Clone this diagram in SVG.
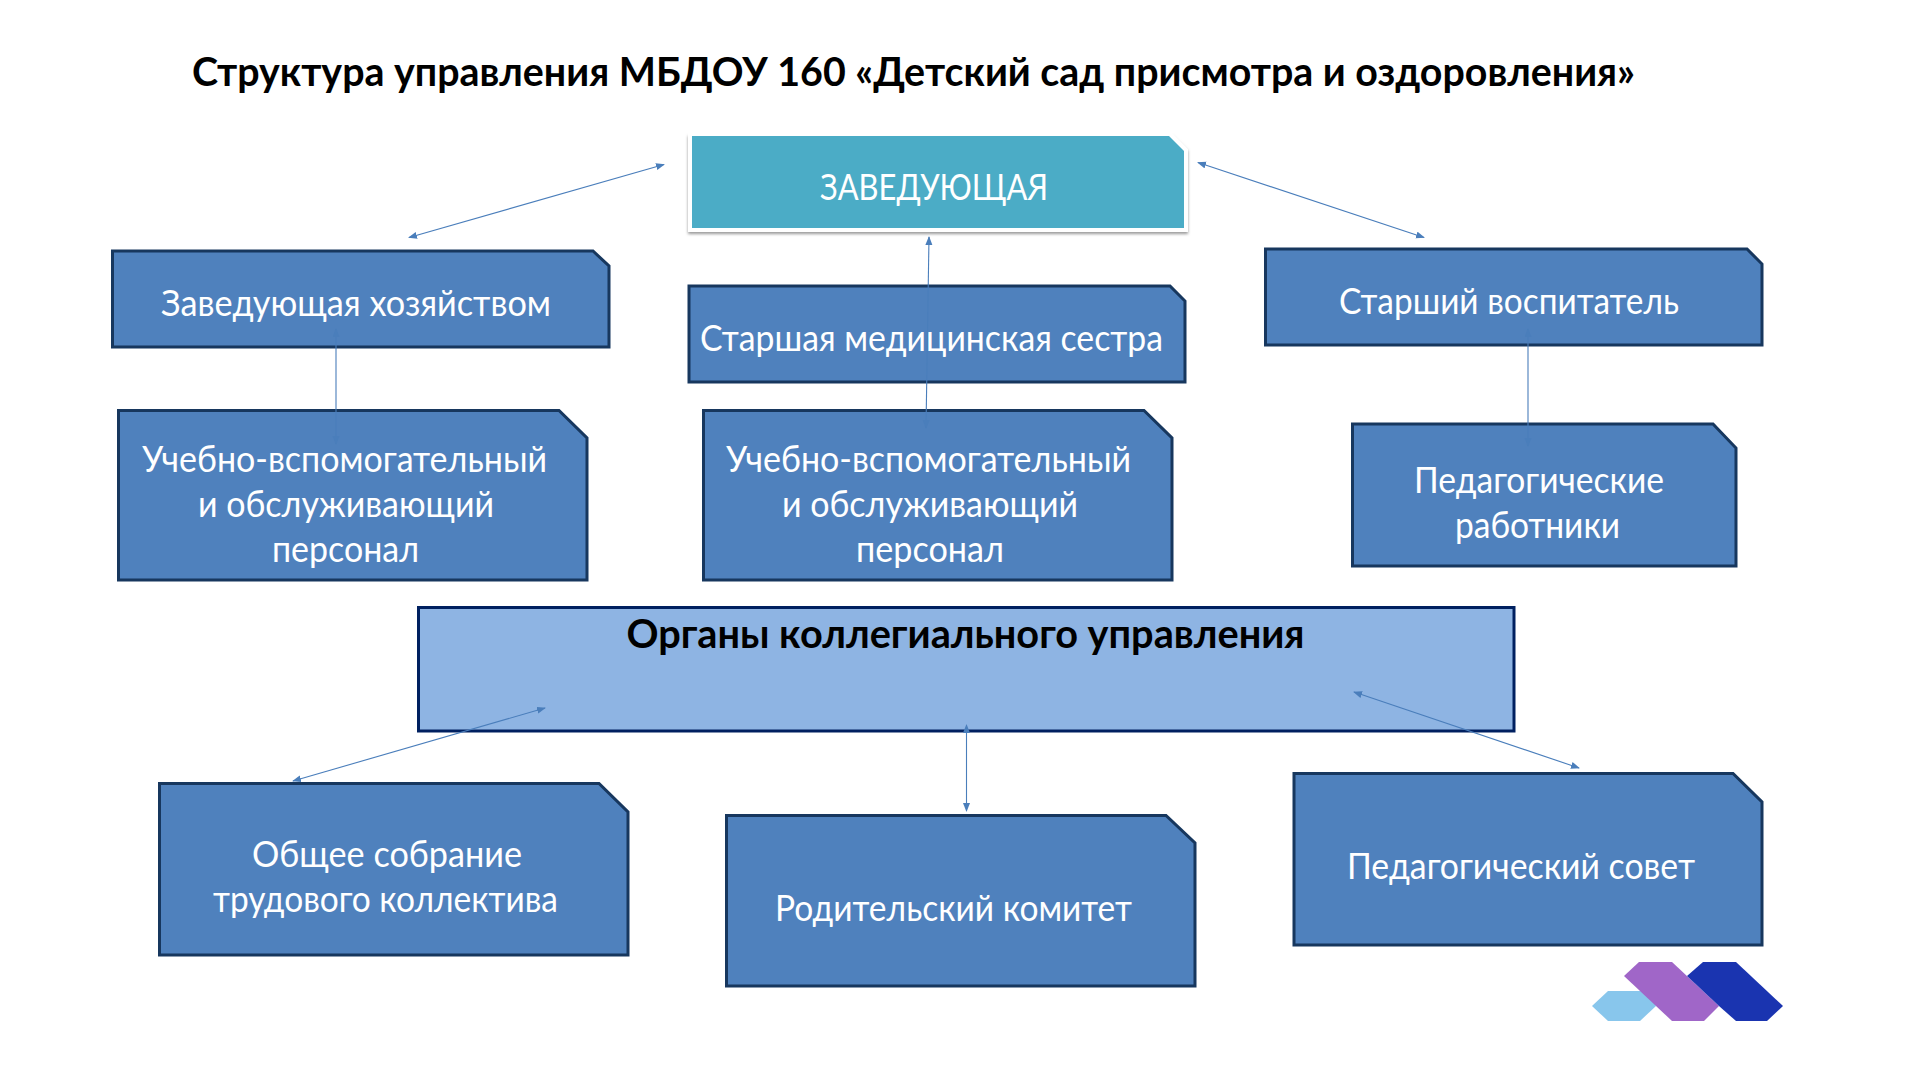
<svg xmlns="http://www.w3.org/2000/svg" width="1920" height="1080" viewBox="0 0 1920 1080">
<style>
text{font-family:"Lato","Open Sans","Noto Sans",sans-serif;font-size:36px;fill:#fff}
.b{font-weight:700;font-size:40px;fill:#000}
.n{fill:#4f81bd;stroke:#17375e;stroke-width:3}
.c{fill:none;stroke:#4a7ebb;stroke-width:1.1;marker-start:url(#a);marker-end:url(#a)}
</style>
<defs>
<marker id="a" markerWidth="10" markerHeight="8" refX="8" refY="3.5" orient="auto-start-reverse" markerUnits="userSpaceOnUse"><path d="M0 0L9 3.5L0 7Z" fill="#4a7ebb"/></marker>
<filter id="s" x="-5%" y="-10%" width="110%" height="125%"><feGaussianBlur stdDeviation="1.5"/></filter>
</defs>
<rect width="1920" height="1080" fill="#fff"/>
<text id="title" class="b" x="192" y="85.5" textLength="1443" lengthAdjust="spacingAndGlyphs">Структура управления МБДОУ 160 «Детский сад присмотра и оздоровления»</text>

<g id="head">
<polygon points="688,136 1172,136 1188,151 1188,234 688,234" fill="#999" filter="url(#s)"/>
<polygon points="688,132 1171,132 1188,149 1188,232 688,232" fill="#fff"/>
<polygon points="692,136 1169,136 1184,151 1184,228 692,228" fill="#4bacc6"/>
<text x="820" y="199.5" textLength="228" lengthAdjust="spacingAndGlyphs">ЗАВЕДУЮЩАЯ</text>
</g>
<g id="n-hoz"><polygon class="n" points="112.5,251 593,251 609,266 609,347 112.5,347"/><text x="161" y="316" textLength="390" lengthAdjust="spacingAndGlyphs">Заведующая хозяйством</text></g>
<g id="n-med"><polygon class="n" points="689,286 1170,286 1185,301 1185,382 689,382"/><text x="700" y="351" textLength="463" lengthAdjust="spacingAndGlyphs">Старшая медицинская сестра</text></g>
<g id="n-vos"><polygon class="n" points="1265.5,249 1747,249 1762,264 1762,345 1265.5,345"/><text x="1339" y="314" textLength="340" lengthAdjust="spacingAndGlyphs">Старший воспитатель</text></g>
<g id="n-ped"><polygon class="n" points="1352.5,424 1713,424 1736,448 1736,566 1352.5,566"/><text x="1414" y="493" textLength="250" lengthAdjust="spacingAndGlyphs">Педагогические</text><text x="1455" y="537.5" textLength="165" lengthAdjust="spacingAndGlyphs">работники</text></g>
<g id="n-uch1"><polygon class="n" points="118.5,410.5 559,410.5 587,438 587,580 118.5,580"/><text x="142" y="471.5" textLength="405" lengthAdjust="spacingAndGlyphs">Учебно-вспомогательный</text><text x="198" y="516.5" textLength="296" lengthAdjust="spacingAndGlyphs">и обслуживающий</text><text x="272" y="561.5" textLength="147" lengthAdjust="spacingAndGlyphs">персонал</text></g>
<g id="n-uch2"><polygon class="n" points="703.5,410.5 1144,410.5 1172,438 1172,580 703.5,580"/><text x="726" y="471.5" textLength="405" lengthAdjust="spacingAndGlyphs">Учебно-вспомогательный</text><text x="782" y="516.5" textLength="296" lengthAdjust="spacingAndGlyphs">и обслуживающий</text><text x="856" y="561.5" textLength="148" lengthAdjust="spacingAndGlyphs">персонал</text></g>
<g id="n-org"><rect x="418.5" y="607.5" width="1095.5" height="123.5" fill="#8eb4e3" stroke="#002060" stroke-width="3"/><text class="b" x="626.5" y="648" textLength="678" lengthAdjust="spacingAndGlyphs">Органы коллегиального управления</text></g>
<g id="n-obsh"><polygon class="n" points="159.5,783.5 599,783.5 628,812 628,955 159.5,955"/><text x="252" y="867" textLength="270" lengthAdjust="spacingAndGlyphs">Общее собрание</text><text x="213" y="912" textLength="345" lengthAdjust="spacingAndGlyphs">трудового коллектива</text></g>
<g id="n-rod"><polygon class="n" points="726.5,815.5 1166,815.5 1195,843 1195,986 726.5,986"/><text x="775" y="921" textLength="357" lengthAdjust="spacingAndGlyphs">Родительский комитет</text></g>
<g id="n-sov"><polygon class="n" points="1294,773.5 1733,773.5 1762,802 1762,945 1294,945"/><text x="1347" y="879" textLength="348" lengthAdjust="spacingAndGlyphs">Педагогический совет</text></g>

<g id="connectors">
<line class="c" x1="409" y1="237.5" x2="664" y2="164.5"/>
<line class="c" x1="1198" y1="162.5" x2="1424" y2="237.5"/>
<line class="c" x1="929" y1="237" x2="926" y2="428"/>
<line class="c" x1="336" y1="329" x2="336" y2="444"/>
<line class="c" x1="1528" y1="329" x2="1528" y2="446"/>
<line class="c" x1="293" y1="781" x2="545" y2="708"/>
<line class="c" x1="966.5" y1="725" x2="966.5" y2="811"/>
<line class="c" x1="1354" y1="692" x2="1579" y2="768"/>
</g>
<g id="logo">
<polygon points="1592,1006 1608,991 1650,991 1656,1006 1640,1021 1608,1021" fill="#88c6ec"/>
<polygon points="1624,976 1639,962 1672,962 1719,1006 1704,1021 1672,1021" fill="#a066c8"/>
<polygon points="1687,976 1703,962 1736,962 1783,1006 1767,1021 1736,1021 1719,1006" fill="#1a34b0"/>
</g>
</svg>
